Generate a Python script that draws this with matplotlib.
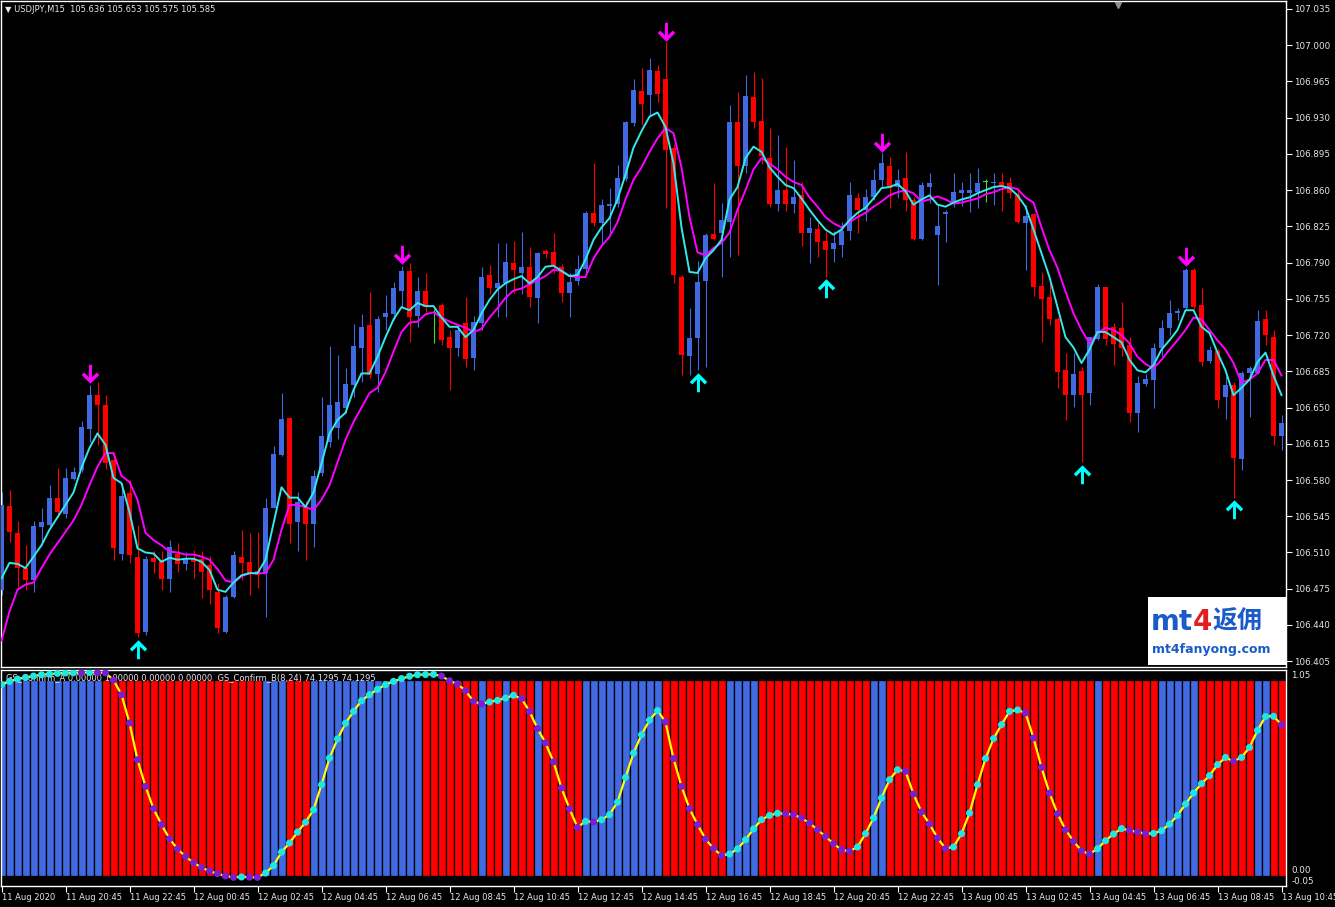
import matplotlib.pyplot as plt
import numpy as np
from matplotlib.path import Path
from matplotlib.patches import Rectangle

# USDJPY M15, one bar per 15 minutes, 11 Aug 18:45 .. 13 Aug 10:45
opens = [106.474, 106.555, 106.529, 106.495, 106.483, 106.535, 106.537, 106.563, 106.547, 106.581,
         106.590, 106.629, 106.662, 106.652, 106.599, 106.509, 106.567, 106.506, 106.433, 106.505,
         106.503, 106.484, 106.509, 106.499, 106.505, 106.504, 106.498, 106.472, 106.433, 106.467,
         106.506, 106.501, 106.492, 106.490, 106.553, 106.604, 106.640, 106.539, 106.554, 106.538,
         106.587, 106.617, 106.630, 106.650, 106.672, 106.708, 106.730, 106.682, 106.737, 106.740,
         106.763, 106.782, 106.738, 106.763, 106.742, 106.749, 106.718, 106.708, 106.732, 106.698,
         106.732, 106.778, 106.765, 106.770, 106.790, 106.780, 106.786, 106.756, 106.801, 106.800,
         106.786, 106.761, 106.772, 106.784, 106.838, 106.828, 106.845, 106.847, 106.871, 106.925,
         106.956, 106.952, 106.975, 106.967, 106.901, 106.776, 106.700, 106.717, 106.772, 106.818,
         106.819, 106.829, 106.926, 106.883, 106.950, 106.927, 106.891, 106.847, 106.860, 106.847,
         106.855, 106.819, 106.822, 106.811, 106.803, 106.807, 106.821, 106.852, 106.841, 106.853,
         106.870, 106.883, 106.863, 106.872, 106.850, 106.813, 106.863, 106.817, 106.837, 106.848,
         106.857, 106.857, 106.858, 106.868, 106.867, 106.868, 106.867, 106.855, 106.828, 106.837,
         106.767, 106.757, 106.736, 106.686, 106.662, 106.685, 106.664, 106.716, 106.766, 106.728,
         106.727, 106.710, 106.645, 106.673, 106.677, 106.708, 106.727, 106.741, 106.746, 106.783,
         106.749, 106.695, 106.705, 106.660, 106.672, 106.600, 106.683, 106.683, 106.736, 106.718,
         106.623]
highs = [106.568, 106.570, 106.540, 106.517, 106.540, 106.553, 106.575, 106.592, 106.592, 106.593,
         106.637, 106.672, 106.675, 106.662, 106.607, 106.577, 106.580, 106.537, 106.507, 106.511,
         106.511, 106.522, 106.519, 106.510, 106.512, 106.511, 106.507, 106.481, 106.469, 106.511,
         106.532, 106.529, 106.530, 106.563, 106.613, 106.664, 106.641, 106.568, 106.560, 106.590,
         106.660, 106.709, 106.701, 106.688, 106.731, 106.740, 106.762, 106.738, 106.759, 106.771,
         106.787, 106.790, 106.776, 106.780, 106.745, 106.751, 106.725, 106.730, 106.757, 106.738,
         106.786, 106.788, 106.809, 106.809, 106.811, 106.820, 106.805, 106.800, 106.803, 106.819,
         106.789, 106.780, 106.797, 106.840, 106.886, 106.851, 106.862, 106.884, 106.927, 106.967,
         106.978, 106.988, 106.981, 107.003, 106.905, 106.778, 106.746, 106.792, 106.819, 106.867,
         106.848, 106.942, 106.955, 106.971, 106.974, 106.968, 106.920, 106.913, 106.902, 106.889,
         106.868, 106.834, 106.829, 106.821, 106.821, 106.829, 106.868, 106.857, 106.861, 106.880,
         106.896, 106.892, 106.880, 106.897, 106.853, 106.868, 106.877, 106.846, 106.841, 106.877,
         106.868, 106.877, 106.881, 106.871, 106.877, 106.877, 106.873, 106.862, 106.846, 106.838,
         106.781, 106.770, 106.737, 106.703, 106.703, 106.689, 106.718, 106.769, 106.766, 106.732,
         106.752, 106.718, 106.680, 106.682, 106.712, 106.735, 106.754, 106.746, 106.785, 106.785,
         106.765, 106.709, 106.707, 106.680, 106.675, 106.685, 106.690, 106.744, 106.744, 106.725,
         106.643]
lows = [106.469, 106.520, 106.477, 106.474, 106.472, 106.517, 106.536, 106.544, 106.543, 106.580,
        106.588, 106.617, 106.614, 106.591, 106.503, 106.503, 106.500, 106.428, 106.430, 106.490,
        106.474, 106.472, 106.491, 106.493, 106.485, 106.466, 106.460, 106.432, 106.432, 106.466,
        106.483, 106.469, 106.476, 106.448, 106.553, 106.603, 106.519, 106.511, 106.503, 106.515,
        106.584, 106.612, 106.620, 106.645, 106.660, 106.675, 106.679, 106.665, 106.725, 106.735,
        106.747, 106.713, 106.728, 106.740, 106.712, 106.710, 106.667, 106.700, 106.689, 106.686,
        106.725, 106.760, 106.737, 106.737, 106.761, 106.760, 106.747, 106.732, 106.794, 106.780,
        106.752, 106.737, 106.768, 106.780, 106.825, 106.807, 106.817, 106.844, 106.869, 106.922,
        106.923, 106.932, 106.945, 106.843, 106.770, 106.681, 106.681, 106.686, 106.689, 106.812,
        106.776, 106.795, 106.797, 106.877, 106.920, 106.885, 106.844, 106.840, 106.840, 106.838,
        106.806, 106.790, 106.795, 106.776, 106.791, 106.795, 106.812, 106.819, 106.830, 106.850,
        106.863, 106.843, 106.852, 106.840, 106.812, 106.812, 106.848, 106.768, 106.810, 106.844,
        106.845, 106.839, 106.843, 106.849, 106.846, 106.840, 106.852, 106.828, 106.783, 106.758,
        106.713, 106.730, 106.669, 106.638, 106.651, 106.597, 106.652, 106.715, 106.710, 106.691,
        106.700, 106.636, 106.626, 106.671, 106.650, 106.700, 106.720, 106.735, 106.744, 106.745,
        106.690, 106.693, 106.650, 106.639, 106.563, 106.590, 106.641, 106.682, 106.710, 106.614,
        106.609]
closes = [106.556, 106.530, 106.495, 106.483, 106.536, 106.539, 106.563, 106.549, 106.582, 106.588,
          106.631, 106.662, 106.652, 106.596, 106.514, 106.565, 106.508, 106.432, 106.504, 106.501,
          106.484, 106.515, 106.499, 106.504, 106.501, 106.491, 106.474, 106.437, 106.467, 106.508,
          106.500, 106.490, 106.488, 106.553, 106.605, 106.639, 106.538, 106.559, 106.538, 106.584,
          106.623, 106.652, 106.655, 106.673, 106.709, 106.728, 106.681, 106.736, 106.741, 106.765,
          106.782, 106.737, 106.763, 106.747, 106.742, 106.715, 106.708, 106.725, 106.697, 106.733,
          106.776, 106.765, 106.770, 106.791, 106.783, 106.786, 106.757, 106.799, 106.798, 106.787,
          106.761, 106.771, 106.784, 106.838, 106.828, 106.846, 106.847, 106.872, 106.926, 106.957,
          106.943, 106.976, 106.953, 106.899, 106.778, 106.701, 106.717, 106.771, 106.817, 106.813,
          106.831, 106.926, 106.883, 106.951, 106.926, 106.893, 106.847, 106.860, 106.847, 106.853,
          106.819, 106.823, 106.810, 106.802, 106.809, 106.821, 106.855, 106.841, 106.853, 106.870,
          106.886, 106.862, 106.870, 106.850, 106.813, 106.865, 106.867, 106.825, 106.839, 106.858,
          106.860, 106.860, 106.867, 106.868, 106.868, 106.863, 106.857, 106.829, 106.835, 106.766,
          106.755, 106.736, 106.684, 106.662, 106.682, 106.662, 106.718, 106.766, 106.716, 106.711,
          106.708, 106.645, 106.674, 106.678, 106.708, 106.727, 106.741, 106.743, 106.783, 106.747,
          106.694, 106.706, 106.657, 106.672, 106.601, 106.683, 106.688, 106.734, 106.720, 106.623,
          106.635]

# fast (aqua) and slow (magenta) moving averages
ma_fast = [106.485, 106.500, 106.499, 106.495, 106.506, 106.517, 106.532, 106.544, 106.556, 106.568,
           106.592, 106.611, 106.625, 106.614, 106.582, 106.577, 106.549, 106.514, 106.510, 106.509,
           106.501, 106.505, 106.503, 106.504, 106.504, 106.501, 106.493, 106.474, 106.472, 106.481,
           106.488, 106.490, 106.490, 106.503, 106.538, 106.573, 106.563, 106.563, 106.554, 106.568,
           106.596, 106.625, 106.638, 106.645, 106.667, 106.683, 106.683, 106.699, 106.718, 106.735,
           106.747, 106.744, 106.751, 106.748, 106.748, 106.737, 106.728, 106.728, 106.718, 106.725,
           106.741, 106.754, 106.764, 106.770, 106.774, 106.777, 106.770, 106.776, 106.786, 106.787,
           106.782, 106.777, 106.778, 106.793, 106.812, 106.824, 106.833, 106.851, 106.875, 106.901,
           106.917, 106.931, 106.935, 106.921, 106.886, 106.824, 106.781, 106.780, 106.794, 106.802,
           106.812, 106.851, 106.863, 106.891, 106.902, 106.897, 106.882, 106.873, 106.865, 106.862,
           106.852, 106.841, 106.831, 106.822, 106.817, 106.822, 106.831, 106.838, 106.843, 106.852,
           106.862, 106.863, 106.866, 106.859, 106.846, 106.851, 106.855, 106.846, 106.844, 106.848,
           106.851, 106.853, 106.857, 106.860, 106.863, 106.864, 106.862, 106.855, 106.844, 106.822,
           106.799, 106.776, 106.747, 106.718, 106.708, 106.693, 106.706, 106.723, 106.723, 106.718,
           106.713, 106.696, 106.686, 106.684, 106.691, 106.706, 106.715, 106.725, 106.744, 106.744,
           106.728, 106.722, 106.703, 106.686, 106.662, 106.669, 106.677, 106.694, 106.703, 106.681,
           106.662]
ma_slow = [106.425, 106.453, 106.474, 106.479, 106.481, 106.495, 106.508, 106.519, 106.530, 106.541,
           106.556, 106.575, 106.593, 106.606, 106.606, 106.584, 106.578, 106.561, 106.529, 106.522,
           106.517, 106.511, 106.510, 106.508, 106.508, 106.506, 106.503, 106.494, 106.483, 106.481,
           106.487, 106.490, 106.490, 106.490, 106.503, 106.532, 106.556, 106.556, 106.554, 106.551,
           106.561, 106.575, 106.597, 106.619, 106.636, 106.650, 106.664, 106.669, 106.684, 106.704,
           106.723, 106.732, 106.733, 106.740, 106.742, 106.737, 106.733, 106.730, 106.727, 106.723,
           106.726, 106.737, 106.746, 106.756, 106.763, 106.765, 106.769, 106.773, 106.777, 106.783,
           106.782, 106.777, 106.776, 106.776, 106.794, 106.806, 106.815, 106.829, 106.851, 106.870,
           106.882, 106.897, 106.910, 106.920, 106.915, 106.882, 106.834, 106.800, 106.797, 106.804,
           106.809, 106.819, 106.841, 106.860, 106.880, 106.891, 106.886, 106.880, 106.873, 106.868,
           106.865, 106.853, 106.844, 106.834, 106.828, 106.824, 106.829, 106.834, 106.838, 106.844,
           106.849, 106.855, 106.858, 106.860, 106.857, 106.849, 106.851, 106.854, 106.851, 106.847,
           106.848, 106.850, 106.852, 106.856, 106.858, 106.861, 106.863, 106.861, 106.853, 106.848,
           106.824, 106.802, 106.785, 106.762, 106.741, 106.725, 106.712, 106.722, 106.727, 106.725,
           106.720, 106.712, 106.699, 106.692, 106.688, 106.696, 106.706, 106.715, 106.725, 106.737,
           106.735, 106.725, 106.715, 106.706, 106.693, 106.674, 106.677, 106.683, 106.696, 106.696,
           106.681]

sell_arrows = [11, 50, 83, 110, 148]
buy_arrows = [17, 87, 103, 135, 154]

# GS_Confirm histogram colour runs (b = up, r = down) and GS_Confirm_B line
hist_runs = [('b', 13), ('r', 20), ('b', 3), ('r', 3), ('b', 14), ('r', 7), ('b', 1), ('r', 2),
             ('b', 1), ('r', 3), ('b', 1), ('r', 5), ('b', 10), ('r', 8), ('b', 4), ('r', 14),
             ('b', 2), ('r', 26), ('b', 1), ('r', 7), ('b', 5), ('r', 7), ('b', 2), ('r', 2)]
gs_line = [0.976, 0.993, 1.005, 1.013, 1.020, 1.027, 1.030, 1.034, 1.036, 1.037,
           1.037, 1.038, 1.038, 1.036, 1.000, 0.925, 0.781, 0.593, 0.457, 0.343,
           0.262, 0.190, 0.138, 0.100, 0.068, 0.044, 0.025, 0.012, 0.000, -0.007,
           -0.005, -0.006, -0.007, 0.015, 0.053, 0.122, 0.168, 0.224, 0.274, 0.338,
           0.466, 0.602, 0.699, 0.779, 0.840, 0.894, 0.925, 0.952, 0.976, 0.993,
           1.007, 1.019, 1.027, 1.028, 1.029, 1.020, 0.996, 0.980, 0.945, 0.891,
           0.878, 0.888, 0.896, 0.908, 0.922, 0.905, 0.840, 0.752, 0.679, 0.582,
           0.449, 0.343, 0.248, 0.279, 0.276, 0.287, 0.313, 0.377, 0.503, 0.627,
           0.721, 0.795, 0.844, 0.786, 0.599, 0.457, 0.344, 0.262, 0.189, 0.140,
           0.105, 0.112, 0.138, 0.185, 0.240, 0.287, 0.309, 0.320, 0.318, 0.313,
           0.296, 0.270, 0.236, 0.202, 0.165, 0.134, 0.126, 0.148, 0.216, 0.296,
           0.398, 0.491, 0.542, 0.534, 0.418, 0.327, 0.265, 0.194, 0.140, 0.148,
           0.216, 0.321, 0.466, 0.599, 0.701, 0.772, 0.840, 0.847, 0.832, 0.704,
           0.554, 0.423, 0.318, 0.236, 0.177, 0.129, 0.112, 0.139, 0.180, 0.214,
           0.242, 0.233, 0.225, 0.216, 0.217, 0.231, 0.265, 0.309, 0.367, 0.423,
           0.471, 0.512, 0.568, 0.605, 0.585, 0.605, 0.656, 0.743, 0.814, 0.815,
           0.772]

price_ticks = [107.035, 107.000, 106.965, 106.930, 106.895, 106.860, 106.825, 106.790, 106.755,
               106.720, 106.685, 106.650, 106.615, 106.580, 106.545, 106.510, 106.475, 106.440,
               106.405]
time_labels = ['11 Aug 2020', '11 Aug 20:45', '11 Aug 22:45', '12 Aug 00:45', '12 Aug 02:45',
               '12 Aug 04:45', '12 Aug 06:45', '12 Aug 08:45', '12 Aug 10:45', '12 Aug 12:45',
               '12 Aug 14:45', '12 Aug 16:45', '12 Aug 18:45', '12 Aug 20:45', '12 Aug 22:45',
               '13 Aug 00:45', '13 Aug 02:45', '13 Aug 04:45', '13 Aug 06:45', '13 Aug 08:45',
               '13 Aug 10:45']

BULL = '#4169E1'
BEAR = '#FF0000'
DOJI = '#3CDC3C'
TXT = '#E6E6E6'

n = len(closes)
x = np.arange(n)
o = np.array(opens)
h = np.array(highs)
l = np.array(lows)
c = np.array(closes)

W, H = 1335, 907
fig = plt.figure(figsize=(W / 100, H / 100), dpi=100, facecolor='black')
ax = fig.add_axes([0.5 / W, 1 - 667 / H, 1285 / W, 666 / H])
ax2 = fig.add_axes([0.5 / W, 1 - 886 / H, 1285 / W, 216 / H])

for a in (ax, ax2):
    a.set_facecolor('black')
    a.set_xlim(-0.125, 160.5)
    for s in a.spines.values():
        s.set_color('white')
        s.set_linewidth(1)

ax.set_ylim(106.3994, 107.0427)

# candles
cols = np.where(c > o, BULL, np.where(c < o, BEAR, DOJI))
ax.vlines(x, l, h, colors=cols, linewidth=0.8, zorder=2)
body_lo = np.minimum(o, c)
body_h = np.maximum(np.abs(c - o), 0.0012)
ax.bar(x, body_h, bottom=body_lo - np.where(c == o, 0.0006, 0), width=0.64,
       color=cols, linewidth=0, zorder=3)

ax.plot(x, ma_slow, color='#FF00FF', lw=1.4, zorder=4)
ax.plot(x, ma_fast, color='#36E8E8', lw=1.4, zorder=5)

# arrows
dn = [(-0.15, 1.0), (0.15, 1.0), (0.15, -0.3), (0.65, 0.2), (0.9, -0.05), (0.0, -0.95),
      (-0.9, -0.05), (-0.65, 0.2), (-0.15, -0.3), (-0.15, 1.0)]
codes = [Path.MOVETO] + [Path.LINETO] * (len(dn) - 2) + [Path.CLOSEPOLY]
down_marker = Path(dn, codes)
up_marker = Path([(px, -py) for px, py in dn], codes)
gap = 0.0100
ax.plot(sell_arrows, h[sell_arrows] + gap, linestyle='none', marker=down_marker,
        markersize=14, color='#FF00FF', markeredgewidth=0, zorder=6)
ax.plot(buy_arrows, l[buy_arrows] - gap - 0.001, linestyle='none', marker=up_marker,
        markersize=14, color='#00FFFF', markeredgewidth=0, zorder=6)

# price scale
ax.yaxis.tick_right()
ax.set_yticks(price_ticks)
ax.set_yticklabels(['%.3f' % p for p in price_ticks])
ax.tick_params(axis='y', colors='white', labelcolor=TXT, labelsize=6.3, length=4, width=0.8, pad=2)
ax.set_xticks([])
ax.plot([139.5], [107.039], marker='v', color='#909090', markersize=5, clip_on=False, zorder=7)

fig.text(5 / W, 1 - 9 / H, '\u25bc USDJPY,M15  105.636 105.653 105.575 105.585',
         color=TXT, fontsize=6, va='center')

# indicator window
ax2.set_ylim(-0.051, 1.051)
hist_cols = []
for k, cnt in hist_runs:
    hist_cols += [BULL if k == 'b' else BEAR] * cnt
ax2.bar(x, 1.0, width=1.0, color=hist_cols, edgecolor='black', linewidth=0.9, zorder=1)
ax2.text(0.004, 1 - 8 / 216,
         'GS_Confirm_A 0.00000 1.00000 0.00000 0.00000  GS_Confirm_B(8,24) 74.1295 74.1295',
         transform=ax2.transAxes, color=TXT, fontsize=6, va='center', zorder=3)
gs = np.array(gs_line)
dot_cols = ['#1FE5E5'] + ['#1FE5E5' if gs[i] > gs[i - 1] else '#7A1ED6' for i in range(1, n)]
ax2.plot(x, gs, color='#FFFF00', lw=1.6, zorder=4)
ax2.scatter(x, gs, c=dot_cols, s=26, linewidths=0, zorder=5)

ax2.set_yticks([])
ytr = ax2.get_yaxis_transform()
ax2.text(1.0045, 1.045, '1.05', transform=ytr, color=TXT, fontsize=6.3, va='top')
ax2.text(1.0045, 0.026, '0.00', transform=ytr, color=TXT, fontsize=6.3, va='center')
ax2.text(1.0045, -0.027, '-0.05', transform=ytr, color=TXT, fontsize=6.3, va='center')

ax2.set_xticks(np.arange(0, n, 8))
ax2.set_xticklabels(time_labels)
ax2.tick_params(axis='x', colors='white', labelcolor=TXT, labelsize=6, length=4, width=0.8, pad=1)
for lab in ax2.get_xticklabels():
    lab.set_ha('left')

# watermark
fig.add_artist(Rectangle((1148 / W, 1 - 665 / H), 139 / W, 68 / H, transform=fig.transFigure,
                         facecolor='white', edgecolor='none', zorder=8))
fig.text(1151 / W, 1 - 622 / H, 'mt', color='#1A5BC8', fontsize=20, fontweight='bold',
         va='center', zorder=9)
fig.text(1193 / W, 1 - 622 / H, '4', color='#E02020', fontsize=20, fontweight='bold',
         va='center', zorder=9)
fig.text(1213 / W, 1 - 622 / H, '返佣', color='#1A5BC8', fontsize=18, fontweight='bold',
         va='center', zorder=9, family=['Noto Sans CJK SC', 'DejaVu Sans'])
fig.text(1152 / W, 1 - 650 / H, 'mt4fanyong.com', color='#1A5BC8', fontsize=9, fontweight='bold',
         va='center', zorder=9)

fig.savefig('out.png', dpi=100, facecolor='black')
